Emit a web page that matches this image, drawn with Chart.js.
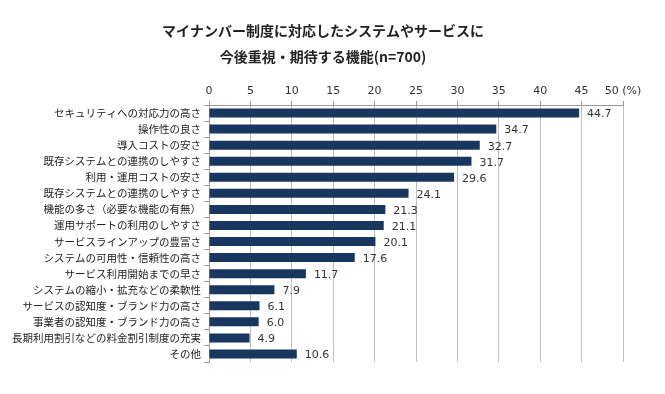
<!DOCTYPE html>
<html>
<head>
<meta charset="utf-8">
<script src="https://cdn.jsdelivr.net/npm/chart.js@4/dist/chart.umd.min.js"></script>
<style>
  body { margin: 0; background: #fff; }
  #wrap { width: 665px; height: 394px; }
</style>
</head>
<body>
<div id="wrap"><canvas id="chart" width="665" height="394"></canvas></div>
<script>
const titleLines = ['マイナンバー制度に対応したシステムやサービスに', '今後重視・期待する機能(n=700)'];
const categories = [
    'セキュリティへの対応力の高さ',
    '操作性の良さ',
    '導入コストの安さ',
    '既存システムとの連携のしやすさ',
    '利用・運用コストの安さ',
    '既存システムとの連携のしやすさ',
    '機能の多さ（必要な機能の有無）',
    '運用サポートの利用のしやすさ',
    'サービスラインアップの豊富さ',
    'システムの可用性・信頼性の高さ',
    'サービス利用開始までの早さ',
    'システムの縮小・拡充などの柔軟性',
    'サービスの認知度・ブランド力の高さ',
    '事業者の認知度・ブランド力の高さ',
    '長期利用割引などの料金割引制度の充実',
    'その他'
];
const values = [44.7, 34.7, 32.7, 31.7, 29.6, 24.1, 21.3, 21.1, 20.1, 17.6, 11.7, 7.9, 6.1, 6.0, 4.9, 10.6];
const axisMin = 0;
const axisMax = 50;
const axisStep = 5;
const unitLabel = '(%)';

const jpFont = '"Noto Sans CJK JP", "Noto Sans", sans-serif';
const numFont = '"DejaVu Sans", sans-serif';

// title + value labels
const extras = {
    id: 'extras',
    afterDraw(chart) {
        const ctx = chart.ctx;
        ctx.save();
        ctx.fillStyle = '#222';
        ctx.textAlign = 'center';
        ctx.textBaseline = 'middle';
        ctx.font = 'bold 14px ' + jpFont;
        ctx.fillText(titleLines[0], 323, 31);
        ctx.fillText(titleLines[1], 323, 57);

        ctx.font = '11px ' + numFont;
        ctx.fillStyle = '#333';
        ctx.textAlign = 'left';
        const meta = chart.getDatasetMeta(0);
        meta.data.forEach((bar, i) => {
            ctx.fillText(values[i].toFixed(1), bar.x + 8, bar.y + 1.5);
        });
        ctx.restore();
    }
};

new Chart(document.getElementById('chart'), {
    type: 'bar',
    data: {
        labels: categories,
        datasets: [{
            data: values,
            backgroundColor: '#17375e',
            borderWidth: 0,
            barPercentage: 0.56,
            categoryPercentage: 1
        }]
    },
    options: {
        indexAxis: 'y',
        responsive: false,
        animation: false,
        layout: { padding: { top: 80, right: 42, bottom: 32, left: 0 } },
        plugins: {
            legend: { display: false },
            tooltip: { enabled: false }
        },
        scales: {
            x: {
                position: 'top',
                min: axisMin,
                max: axisMax,
                afterFit(scale) { scale.height = 25; },
                ticks: {
                    stepSize: axisStep,
                    color: '#333',
                    padding: 3,
                    maxRotation: 0,
                    minRotation: 0,
                    autoSkip: false,
                    font: { family: numFont, size: 11 },
                    callback: (v) => v === axisMax ? v + ' ' + unitLabel : v
                },
                grid: { color: '#bfbfbf', tickLength: 4, tickColor: '#999' },
                border: { color: '#999' }
            },
            y: {
                afterFit(scale) { scale.width = 209; },
                ticks: {
                    color: '#222',
                    padding: 3,
                    font: { family: jpFont, size: 10.5 }
                },
                grid: { drawOnChartArea: false, tickLength: 5, tickColor: '#999', offset: true },
                border: { color: '#999' }
            }
        }
    },
    plugins: [extras]
});
</script>
</body>
</html>
